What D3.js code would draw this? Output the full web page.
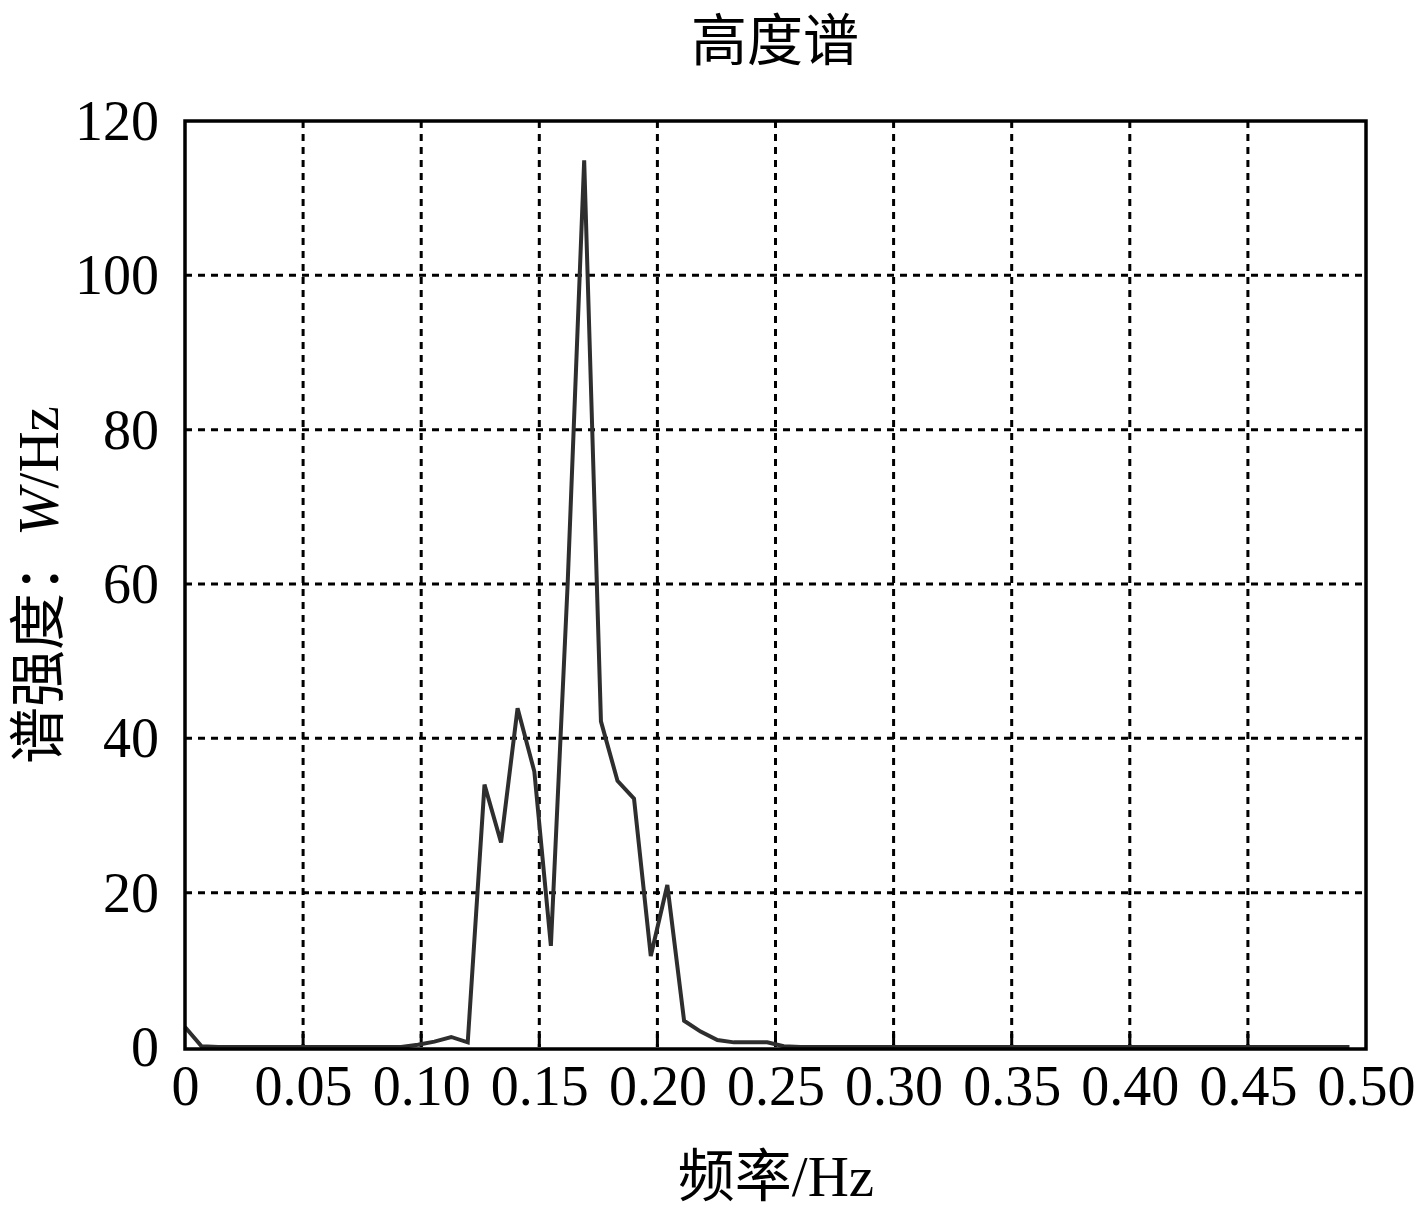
<!DOCTYPE html>
<html>
<head>
<meta charset="utf-8">
<script src="https://cdn.jsdelivr.net/npm/d3@7"></script>
<style>
  body { margin: 0; background: #fff; }
  text { font-family: "Liberation Serif", "Noto Sans CJK SC", serif; fill: #000; }
  .ital { font-family: "Liberation Serif", "DejaVu Serif", serif; font-style: italic; }
</style>
</head>
<body>
<svg id="chart"></svg>
<script>
// Frequency bins (Hz), k / 142 for k = 0..70
const freqs = [
  0.0000, 0.0070, 0.0141, 0.0211, 0.0282, 0.0352, 0.0423, 0.0493, 0.0563, 0.0634,
  0.0704, 0.0775, 0.0845, 0.0915, 0.0986, 0.1056, 0.1127, 0.1197, 0.1268, 0.1338,
  0.1408, 0.1479, 0.1549, 0.1620, 0.1690, 0.1761, 0.1831, 0.1901, 0.1972, 0.2042,
  0.2113, 0.2183, 0.2254, 0.2324, 0.2394, 0.2465, 0.2535, 0.2606, 0.2676, 0.2746,
  0.2817, 0.2887, 0.2958, 0.3028, 0.3099, 0.3169, 0.3239, 0.3310, 0.3380, 0.3451,
  0.3521, 0.3592, 0.3662, 0.3732, 0.3803, 0.3873, 0.3944, 0.4014, 0.4085, 0.4155,
  0.4225, 0.4296, 0.4366, 0.4437, 0.4507, 0.4577, 0.4648, 0.4718, 0.4789, 0.4859,
  0.4930
]

// Spectral density (W/Hz)
const psd = [
  2.6, 0.1, 0.0, 0.0, 0.0, 0.0, 0.0, 0.0, 0.0, 0.0,
  0.0, 0.0, 0.0, 0.0, 0.3, 0.7, 1.3, 0.6, 34.0, 26.5,
  43.9, 35.7, 13.1, 60.0, 114.9, 42.2, 34.5, 32.2, 11.8, 21.0,
  3.4, 2.0, 0.9, 0.6, 0.6, 0.6, 0.1, 0.0, 0.0, 0.0,
  0.0, 0.0, 0.0, 0.0, 0.0, 0.0, 0.0, 0.0, 0.0, 0.0,
  0.0, 0.0, 0.0, 0.0, 0.0, 0.0, 0.0, 0.0, 0.0, 0.0,
  0.0, 0.0, 0.0, 0.0, 0.0, 0.0, 0.0, 0.0, 0.0, 0.0,
  0.0
]

const xTicks = [0, 0.05, 0.10, 0.15, 0.20, 0.25, 0.30, 0.35, 0.40, 0.45, 0.50]
const xTickLabels = ["0", "0.05", "0.10", "0.15", "0.20", "0.25", "0.30", "0.35", "0.40", "0.45", "0.50"]
const yTicks = [0, 20, 40, 60, 80, 100, 120]

const titleText = "高度谱"
const xLabel = "频率/Hz"

const width = 1417
const height = 1218
const margin = { left: 185, right: 51, top: 121, bottom: 170 }

const svg = d3.select("#chart")
  .attr("width", width)
  .attr("height", height)

const x = d3.scaleLinear()
  .domain([0, 0.5])
  .range([margin.left, width - margin.right])

const y = d3.scaleLinear()
  .domain([0, 120])
  .range([height - margin.bottom - 1, margin.top])

// Dashed grid
svg.append("g")
  .selectAll("line")
  .data(xTicks.slice(1, -1))
  .join("line")
  .attr("x1", d => x(d))
  .attr("x2", d => x(d))
  .attr("y1", y(120))
  .attr("y2", y(0))
  .attr("stroke", "#000")
  .attr("stroke-width", 3)
  .attr("stroke-dasharray", "7,6")

svg.append("g")
  .selectAll("line")
  .data(yTicks.slice(1, -1))
  .join("line")
  .attr("x1", x(0))
  .attr("x2", x(0.5))
  .attr("y1", d => y(d))
  .attr("y2", d => y(d))
  .attr("stroke", "#000")
  .attr("stroke-width", 3)
  .attr("stroke-dasharray", "7,6")

// Inward ticks along the bottom
svg.append("g")
  .selectAll("line")
  .data(xTicks.slice(1, -1))
  .join("line")
  .attr("x1", d => x(d))
  .attr("x2", d => x(d))
  .attr("y1", y(0))
  .attr("y2", y(0) - 13)
  .attr("stroke", "#000")
  .attr("stroke-width", 3)

// Data line
const line = d3.line()
  .x((d, i) => x(freqs[i]))
  .y(d => y(d))

svg.append("path")
  .datum(psd)
  .attr("d", line)
  .attr("fill", "none")
  .attr("stroke", "#2e2e2e")
  .attr("stroke-width", 4)
  .attr("stroke-linejoin", "miter")

// Frame
svg.append("rect")
  .attr("x", x(0))
  .attr("y", y(120))
  .attr("width", x(0.5) - x(0))
  .attr("height", y(0) - y(120) + 2)
  .attr("fill", "none")
  .attr("stroke", "#000")
  .attr("stroke-width", 3.5)

// Axes text
svg.append("g")
  .attr("transform", `translate(0, ${y(0)})`)
  .call(d3.axisBottom(x)
    .tickValues(xTicks)
    .tickFormat((d, i) => xTickLabels[i])
    .tickSize(0)
    .tickPadding(18))
  .call(g => g.select(".domain").remove())
  .call(g => g.selectAll(".tick text")
    .attr("font-family", "Liberation Serif")
    .attr("font-size", 56)
    .attr("dy", "0.71em"))

svg.append("g")
  .attr("transform", `translate(${x(0)}, 0)`)
  .call(d3.axisLeft(y)
    .tickValues(yTicks)
    .tickSize(0)
    .tickPadding(26))
  .call(g => g.select(".domain").remove())
  .call(g => g.selectAll(".tick text")
    .attr("font-family", "Liberation Serif")
    .attr("font-size", 56)
    .attr("dy", "0.33em"))

// Title and labels
svg.append("text")
  .attr("x", 775)
  .attr("y", 60)
  .attr("text-anchor", "middle")
  .attr("font-size", 56)
  .text(titleText)

svg.append("text")
  .attr("x", 776)
  .attr("y", 1196)
  .attr("text-anchor", "middle")
  .attr("font-size", 57)
  .text(xLabel)

const yLab = svg.append("text")
  .attr("transform", `translate(58, 585) rotate(-90)`)
  .attr("text-anchor", "middle")
  .attr("font-size", 57)
yLab.append("tspan").text("谱强度：")
yLab.append("tspan")
  .attr("class", "ital")
  .attr("font-style", "italic")
  .text("W")
yLab.append("tspan")
  .attr("font-family", "Liberation Serif")
  .text("/Hz")
</script>
</body>
</html>
